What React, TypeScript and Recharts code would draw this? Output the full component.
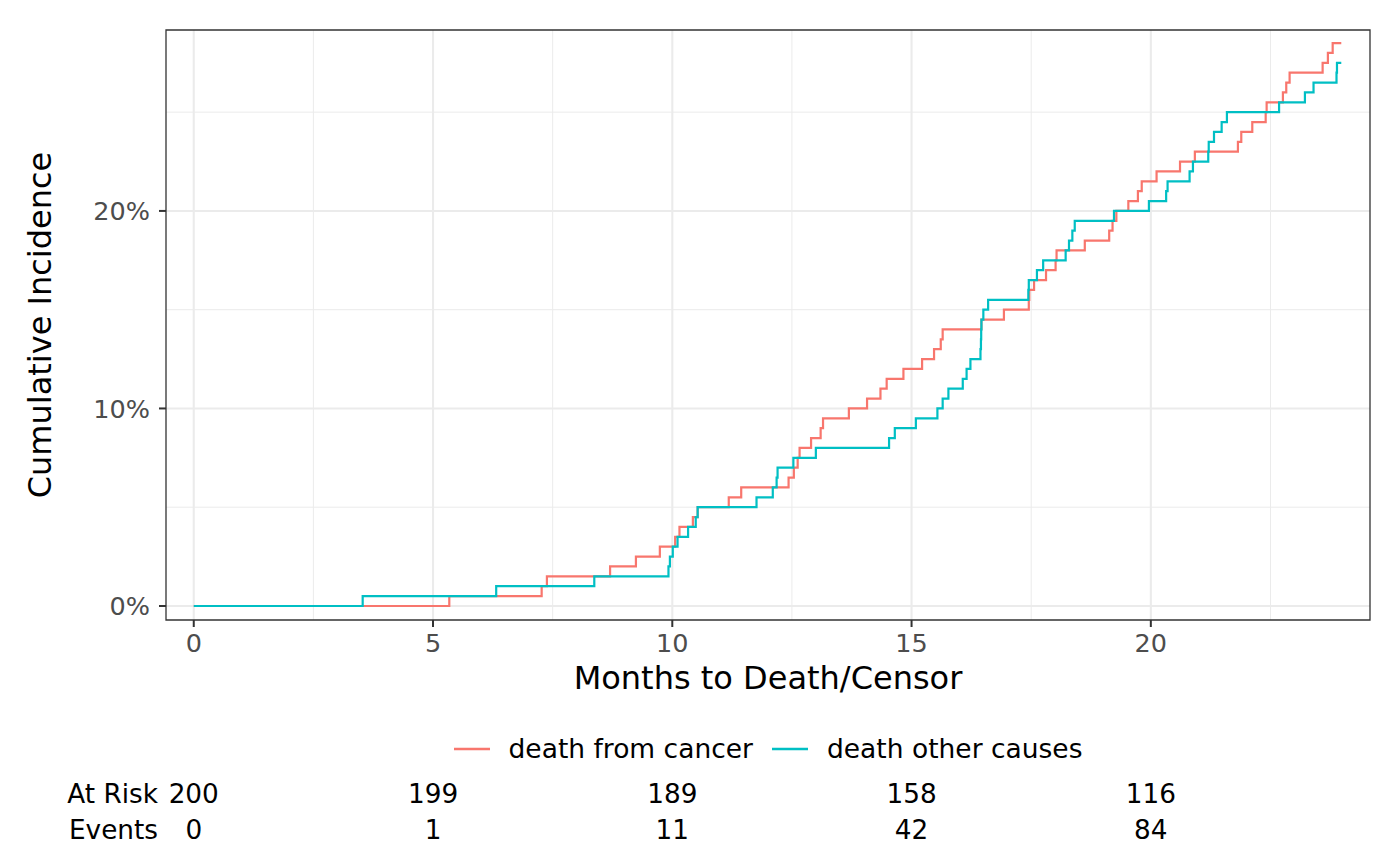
import { LineChart, Line, XAxis, YAxis, CartesianGrid, Legend, ReferenceArea } from 'recharts';

// cumulative incidence (%), step changes at each time
const cancerTime = [
  0, 5.34, 7.27, 7.38, 8.7, 9.24, 9.74, 10.06, 10.15, 10.43, 10.53, 11.18, 11.44,
  12.43, 12.54, 12.62, 12.66, 12.9, 13.1, 13.15, 13.69, 14.07, 14.35, 14.48, 14.83,
  15.22, 15.47, 15.61, 15.65, 16.46, 16.93, 17.45, 17.46, 17.56, 17.81, 18.01, 18.03,
  18.62, 19.13, 19.2, 19.28, 19.53, 19.73, 19.81, 20.12, 20.61, 20.92, 21.82, 21.89,
  22.12, 22.4, 22.42, 22.76, 22.83, 22.9, 23.59, 23.7, 23.8, 23.98,
];
const cancerCif = [
  0, 0.5, 1, 1.5, 2, 2.5, 3, 3.5, 4, 4.5, 5, 5.5, 6,
  6.5, 7, 7.5, 8, 8.5, 9, 9.5, 10, 10.5, 11, 11.5, 12,
  12.5, 13, 13.5, 14, 14.5, 15, 15.5, 16, 16.5, 17, 17.5, 18,
  18.5, 19, 19.5, 20, 20.5, 21, 21.5, 22, 22.5, 23, 23.5, 24,
  24.5, 25, 25.5, 26, 26.5, 27, 27.5, 28, 28.5, 28.5,
];

const otherTime = [
  0, 3.53, 6.32, 8.37, 9.92, 9.95, 10.01, 10.11, 10.33, 10.49, 10.53, 11.76, 12.1,
  12.18, 12.2, 12.53, 13.0, 14.53, 14.65, 15.09, 15.54, 15.65, 15.77, 16.07, 16.15,
  16.23, 16.44, 16.45, 16.455, 16.46, 16.5, 16.6, 17.44, 17.45, 17.62, 17.75, 18.22,
  18.29, 18.36, 18.41, 19.23, 19.96, 20.32, 20.35, 20.81, 20.88, 21.2, 21.21, 21.32,
  21.48, 21.59, 22.68, 23.22, 23.4, 23.88, 23.89, 23.98,
];
const otherCif = [
  0, 0.5, 1, 1.5, 2, 2.5, 3, 3.5, 4, 4.5, 5, 5.5, 6,
  6.5, 7, 7.5, 8, 8.5, 9, 9.5, 10, 10.5, 11, 11.5, 12,
  12.5, 13, 13.5, 14, 14.5, 15, 15.5, 16, 16.5, 17, 17.5, 18,
  18.5, 19, 19.5, 20, 20.5, 21, 21.5, 22, 22.5, 23, 23.5, 24,
  24.5, 25, 25.5, 26, 26.5, 27, 27.5, 27.5,
];

const xTicks = [0, 5, 10, 15, 20];
const xMinor = [2.5, 7.5, 12.5, 17.5, 22.5];
const yTicks = [0, 10, 20];
const yMinor = [5, 15, 25];
const atRisk = [200, 199, 189, 158, 116];
const events = [0, 1, 11, 42, 84];

const X_DOMAIN: [number, number] = [-0.58, 24.58];
const Y_DOMAIN: [number, number] = [-0.71, 29.16];

const FONT = '"DejaVu Sans", sans-serif';

const cancerData = cancerTime.map((t, i) => ({ time: t, cif: cancerCif[i] }));
const otherData = otherTime.map((t, i) => ({ time: t, cif: otherCif[i] }));
const tableData = xTicks.map((t, i) => ({ time: t, risk: atRisk[i], events: events[i] }));

const YTitle = (props: any) => {
  const { viewBox } = props;
  const cx = viewBox.x + 40;
  const cy = viewBox.y + viewBox.height / 2;
  return (
    <text
      x={cx}
      y={cy}
      transform={`rotate(-90 ${cx} ${cy})`}
      textAnchor="middle"
      dominantBaseline="central"
      fontSize={32}
      fontFamily={FONT}
      fill="#000"
    >
      Cumulative Incidence
    </text>
  );
};

const LegendContent = ({ payload }: any) => (
  <div
    style={{
      display: 'flex',
      justifyContent: 'center',
      alignItems: 'center',
      fontFamily: FONT,
      fontSize: 26.5,
      lineHeight: '30px',
      color: '#000',
    }}
  >
    {(payload || [])
      .filter((entry: any) => entry.type !== 'none')
      .map((entry: any, i: number) => (
        <div key={i} style={{ display: 'flex', alignItems: 'center', marginLeft: i > 0 ? 19 : 0 }}>
          <svg width={36} height={6} style={{ marginRight: 19 }}>
            <line x1={0} y1={3} x2={36} y2={3} stroke={entry.color} strokeWidth={2.6} />
          </svg>
          <span>{entry.value}</span>
        </div>
      ))}
  </div>
);

export default function App() {
  const tickStyle = { fontSize: 25.5, fill: '#4D4D4D', fontFamily: FONT };
  const tableStyle = { fontSize: 26.3, fill: '#000', fontFamily: FONT };

  return (
    <div style={{ position: 'absolute', left: 0, top: 0, width: 1400, height: 866, background: '#fff', fontFamily: FONT }}>
      <LineChart width={1400} height={866} margin={{ top: 30, right: 30, left: 0, bottom: 18 }}>
        <CartesianGrid verticalValues={xMinor} horizontalValues={yMinor} stroke="#EBEBEB" strokeWidth={1} />
        <CartesianGrid verticalValues={xTicks} horizontalValues={yTicks} stroke="#EBEBEB" strokeWidth={2.1} />
        <XAxis
          dataKey="time"
          type="number"
          domain={X_DOMAIN}
          allowDataOverflow
          ticks={xTicks}
          height={156}
          axisLine={false}
          tickLine={{ stroke: '#333333', strokeWidth: 2 }}
          tickSize={7}
          tickMargin={7}
          tick={tickStyle}
          label={{
            value: 'Months to Death/Censor',
            position: 'insideTop',
            offset: 46,
            style: { fontSize: 32, fill: '#000', fontFamily: FONT },
          }}
        />
        <XAxis
          xAxisId="row1"
          dataKey="time"
          type="number"
          domain={X_DOMAIN}
          allowDataOverflow
          ticks={xTicks}
          height={36}
          axisLine={false}
          tickLine={false}
          tickSize={0}
          tickMargin={8.5}
          tick={tableStyle}
          tickFormatter={(v: number, i: number) => String(atRisk[i])}
          label={{ value: 'At Risk', position: 'left', offset: 8, style: tableStyle }}
        />
        <XAxis
          xAxisId="row2"
          dataKey="time"
          type="number"
          domain={X_DOMAIN}
          allowDataOverflow
          ticks={xTicks}
          height={36}
          axisLine={false}
          tickLine={false}
          tickSize={0}
          tickMargin={8.5}
          tick={tableStyle}
          tickFormatter={(v: number, i: number) => String(events[i])}
          label={{ value: 'Events', position: 'left', offset: 8, style: tableStyle }}
        />
        <YAxis
          type="number"
          domain={Y_DOMAIN}
          allowDataOverflow
          ticks={yTicks}
          width={166}
          axisLine={false}
          tickLine={{ stroke: '#333333', strokeWidth: 2 }}
          tickSize={7}
          tickMargin={9}
          tick={tickStyle}
          tickFormatter={(v: number) => `${v}%`}
          label={{ content: YTitle }}
        />
        <YAxis yAxisId="table" type="number" domain={[0, 1000]} hide />
        <Legend
          verticalAlign="middle"
          align="center"
          layout="horizontal"
          content={<LegendContent />}
          wrapperStyle={{ top: 734, left: 166, width: 1204 }}
        />
        <Line
          data={cancerData}
          dataKey="cif"
          name="death from cancer"
          type="stepAfter"
          stroke="#F8766D"
          strokeWidth={2.2}
          dot={false}
          isAnimationActive={false}
        />
        <Line
          data={otherData}
          dataKey="cif"
          name="death other causes"
          type="stepAfter"
          stroke="#00BFC4"
          strokeWidth={2.2}
          dot={false}
          isAnimationActive={false}
        />
        {/* invisible series so the risk-table axes have data behind them */}
        <Line
          data={tableData}
          xAxisId="row1"
          yAxisId="table"
          dataKey="risk"
          stroke="none"
          dot={false}
          activeDot={false}
          legendType="none"
          isAnimationActive={false}
        />
        <Line
          data={tableData}
          xAxisId="row2"
          yAxisId="table"
          dataKey="events"
          stroke="none"
          dot={false}
          activeDot={false}
          legendType="none"
          isAnimationActive={false}
        />
        <ReferenceArea
          x1={X_DOMAIN[0]}
          x2={X_DOMAIN[1]}
          y1={Y_DOMAIN[0]}
          y2={Y_DOMAIN[1]}
          fill="none"
          stroke="#333333"
          strokeWidth={1.3}
          ifOverflow="visible"
        />
      </LineChart>
    </div>
  );
}
